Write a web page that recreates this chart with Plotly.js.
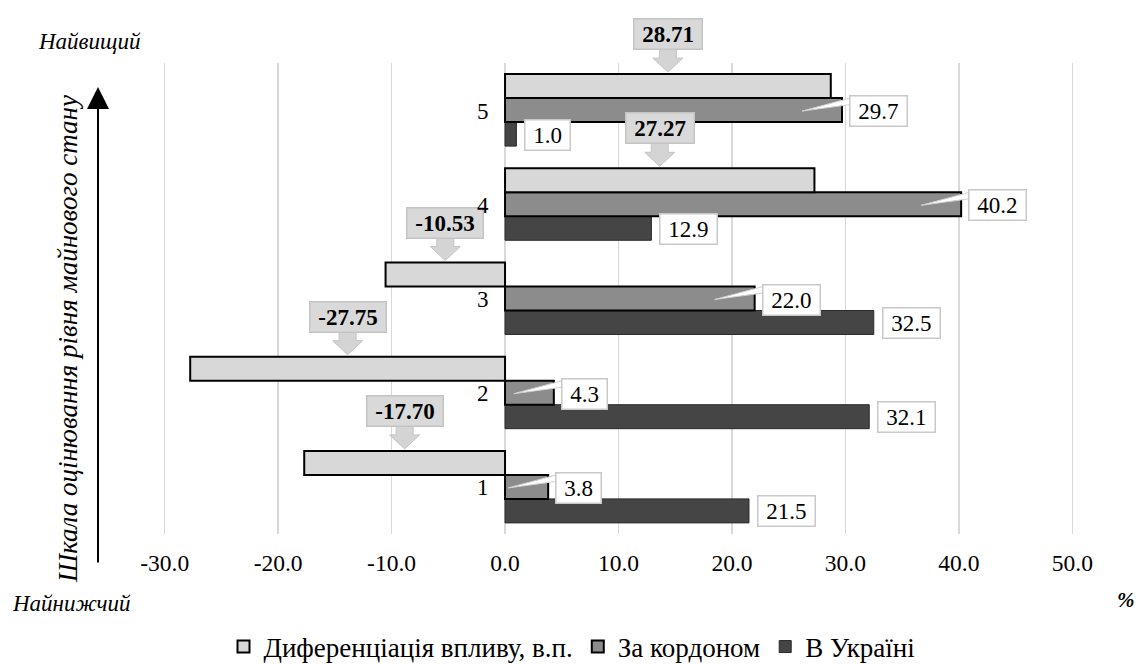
<!DOCTYPE html>
<html>
<head>
<meta charset="utf-8">
<script src="https://cdn.plot.ly/plotly-3.0.1.min.js"></script>
<style>html,body{margin:0;padding:0;background:#fff;}#chart{width:1138px;height:664px;}</style>
</head>
<body>
<div id="chart"></div>
<script>
const categories = [1, 2, 3, 4, 5];
const diffValues = [-17.70, -27.75, -10.53, 27.27, 28.71];
const abroadValues = [3.8, 4.3, 22.0, 40.2, 29.7];
const ukraineValues = [21.5, 32.1, 32.5, 12.9, 1.0];
const seriesNames = ['Диференціація впливу, в.п.', 'За кордоном', 'В Україні'];
const xTickValues = [-30, -20, -10, 0, 10, 20, 30, 40, 50];
const xTickLabels = xTickValues.map(v => v.toFixed(1));
const topLabel = 'Найвищий';
const bottomLabel = 'Найнижчий';
const yTitle = 'Шкала оцінювання рівня майнового стану';
const unitLabel = '%';

const W = 1138, H = 664;
const M = {l: 159, r: 60, t: 63, b: 130, autoexpand: false};
const plotW = W - M.l - M.r, plotH = H - M.t - M.b;
const pxX = p => (p - M.l) / plotW;
const pxY = p => (H - M.b - p) / plotH;
const yRange = [0.5, 5.5];
const yToPaper = v => (v - yRange[0]) / (yRange[1] - yRange[0]);

const serif = 'Liberation Serif';
const NB = '\u00A0';
const pad = s => NB + s + NB;

const traces = [
  {type: 'bar', orientation: 'h', name: seriesNames[2], y: categories, x: ukraineValues,
   marker: {color: '#454545', line: {color: '#2a2a2a', width: 1}}, hoverinfo: 'x'},
  {type: 'bar', orientation: 'h', name: seriesNames[1], y: categories, x: abroadValues,
   marker: {color: '#8c8c8c', line: {color: '#000', width: 2}}, hoverinfo: 'x'},
  {type: 'bar', orientation: 'h', name: seriesNames[0], y: categories, x: diffValues,
   marker: {color: '#d8d8d8', line: {color: '#000', width: 2}}, hoverinfo: 'x'}
];

const annotations = [];
const shapes = [];
categories.forEach((c, i) => {
  // category label next to zero
  annotations.push({x: 0, y: c, xref: 'x', yref: 'y', text: String(c), showarrow: false,
    xanchor: 'right', xshift: -14, yshift: -1, font: {family: serif, size: 23, color: '#000'}});

  // differentiation callout: block arrow (pixel-sized, anchored at bar midpoint) + grey box
  shapes.push({type: 'path', xref: 'x', yref: 'paper', xsizemode: 'pixel', ysizemode: 'pixel',
    xanchor: diffValues[i] / 2, yanchor: yToPaper(c), layer: 'above',
    path: 'M -8.5,62 L -8.5,52 L -15,52 L 0,38 L 15,52 L 8.5,52 L 8.5,62 Z',
    fillcolor: '#d4d4d4', line: {color: '#c4c4c4', width: 1}});
  annotations.push({x: diffValues[i] / 2, y: c, xref: 'x', yref: 'y', yshift: 76,
    text: '<b>' + pad(diffValues[i].toFixed(2)) + '</b>', showarrow: false,
    xanchor: 'center', yanchor: 'middle',
    bgcolor: '#d9d9d9', bordercolor: '#c4c4c4', borderwidth: 1.5, borderpad: 2,
    font: {family: serif, size: 23, color: '#000'}});

  // abroad callout: white wedge pointing into the bar + white box
  shapes.push({type: 'path', xref: 'x', yref: 'paper', xsizemode: 'pixel', ysizemode: 'pixel',
    xanchor: abroadValues[i], yanchor: yToPaper(c), layer: 'above',
    path: 'M -40,-1 L 12,13 L 12,6 Z',
    fillcolor: '#ffffff', line: {color: '#d0d0d0', width: 1}});
  annotations.push({x: abroadValues[i], y: c, xref: 'x', yref: 'y', xshift: 7, yshift: -1,
    xanchor: 'left', yanchor: 'middle', text: pad(abroadValues[i].toFixed(1)), showarrow: false,
    bgcolor: '#ffffff', bordercolor: '#c8c8c8', borderwidth: 1.5, borderpad: 2,
    font: {family: serif, size: 23, color: '#000'}});

  // ukraine label
  annotations.push({x: ukraineValues[i], y: c, xref: 'x', yref: 'y', yshift: -24.5, xshift: 8,
    xanchor: 'left', yanchor: 'middle', text: pad(ukraineValues[i].toFixed(1)), showarrow: false,
    bgcolor: '#ffffff', bordercolor: '#c8c8c8', borderwidth: 1.5, borderpad: 2,
    font: {family: serif, size: 23, color: '#000'}});
});

annotations.push({xref: 'paper', yref: 'paper', x: pxX(36), y: pxY(41), xanchor: 'left', yanchor: 'middle',
  text: '<i>' + topLabel + '</i>', showarrow: false, font: {family: serif, size: 23, color: '#000'}});
annotations.push({xref: 'paper', yref: 'paper', x: pxX(10), y: pxY(603), xanchor: 'left', yanchor: 'middle',
  text: '<i>' + bottomLabel + '</i>', showarrow: false, font: {family: serif, size: 23, color: '#000'}});
annotations.push({xref: 'paper', yref: 'paper', x: pxX(1126), y: pxY(600), xanchor: 'center', yanchor: 'middle',
  text: '<b><i>' + unitLabel + '</i></b>', showarrow: false, font: {family: serif, size: 21, color: '#000'}});
annotations.push({xref: 'paper', yref: 'paper', x: pxX(68), y: pxY(339), xanchor: 'center', yanchor: 'middle',
  textangle: -90, text: '<i>' + yTitle + '</i>', showarrow: false, font: {family: serif, size: 27, color: '#000'}});
// vertical arrow
annotations.push({xref: 'paper', yref: 'paper', x: pxX(98), y: pxY(87), text: '', showarrow: true,
  axref: 'pixel', ayref: 'pixel', ax: 0, ay: 477, arrowhead: 2, arrowsize: 2.2, arrowwidth: 2, arrowcolor: '#000'});

const layout = {
  width: W, height: H,
  margin: M,
  paper_bgcolor: '#fff', plot_bgcolor: '#fff',
  barmode: 'group', bargap: 0.236, bargroupgap: 0,
  showlegend: true,
  legend: {orientation: 'h', traceorder: 'reversed', x: pxX(572), xanchor: 'center',
    y: pxY(647), yanchor: 'middle', font: {family: serif, size: 27, color: '#000'}, itemwidth: 30},
  xaxis: {range: [-30.5, 50.5], tickvals: xTickValues, ticktext: xTickLabels, showgrid: true,
    gridcolor: '#d9d9d9', gridwidth: 1.5, zeroline: false, showline: false, ticks: '',
    ticklabelstandoff: 12, tickangle: 0, tickfont: {family: serif, size: 23.5, color: '#000'}, fixedrange: true},
  yaxis: {range: yRange, showticklabels: false, showgrid: false, zeroline: false, showline: false,
    ticks: '', fixedrange: true},
  shapes: shapes,
  annotations: annotations
};

Plotly.newPlot('chart', traces, layout, {displayModeBar: false, staticPlot: true});
</script>
</body>
</html>
